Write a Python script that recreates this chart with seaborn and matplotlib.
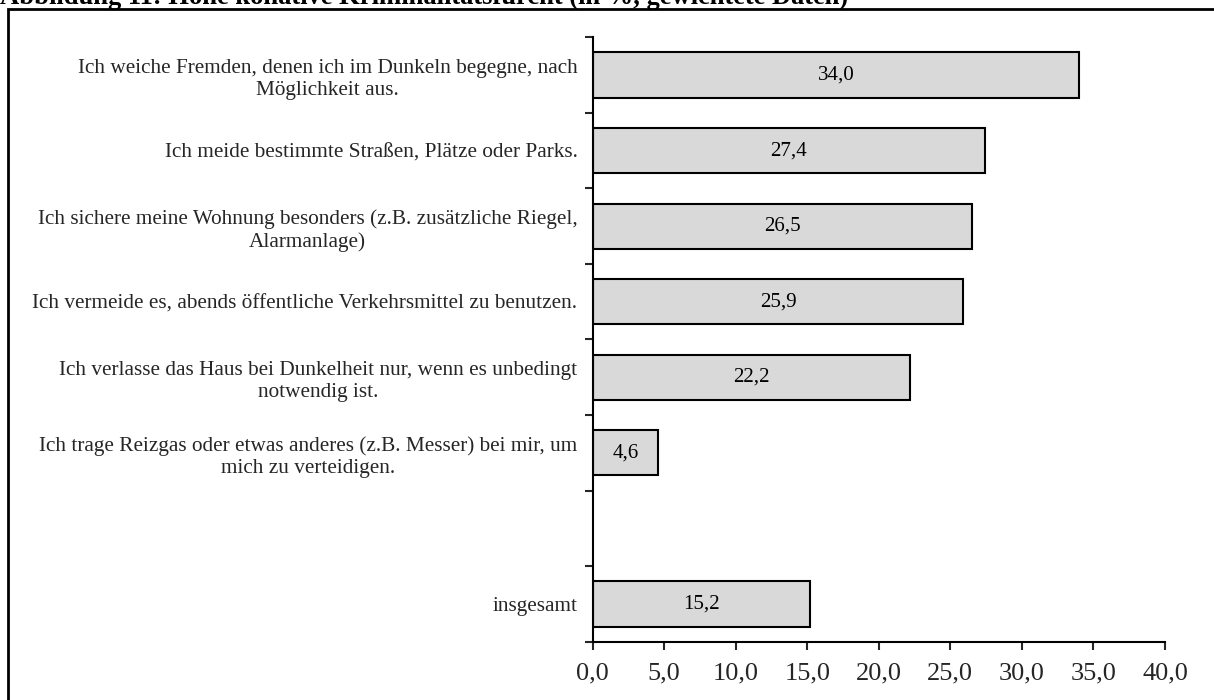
import matplotlib
matplotlib.use("Agg")
import matplotlib.pyplot as plt
import matplotlib.patches as mpatches
import pandas as pd
import seaborn as sns

# Survey items (blank slot separates the items from the overall value)
items = [
    "Ich weiche Fremden, denen ich im Dunkeln begegne, nach\nMöglichkeit aus.",
    "Ich meide bestimmte Straßen, Plätze oder Parks.",
    "Ich sichere meine Wohnung besonders (z.B. zusätzliche Riegel,\nAlarmanlage)",
    "Ich vermeide es, abends öffentliche Verkehrsmittel zu benutzen.",
    "Ich verlasse das Haus bei Dunkelheit nur, wenn es unbedingt\nnotwendig ist.",
    "Ich trage Reizgas oder etwas anderes (z.B. Messer) bei mir, um\nmich zu verteidigen.",
    " ",
    "insgesamt",
]
values = [34.0, 27.4, 26.5, 25.9, 22.2, 4.6, None, 15.2]
xticks = [0, 5, 10, 15, 20, 25, 30, 35, 40]
title = "Abbildung 11: Hohe konative Kriminalitätsfurcht (in %, gewichtete Daten)"

df = pd.DataFrame({"item": items, "value": values}).dropna()

sns.set_theme(style="white")
plt.rcParams["font.family"] = ["Liberation Serif", "DejaVu Serif"]

fig = plt.figure(figsize=(12.14, 7.0), dpi=100)
ax = fig.add_axes([0.4882, 0.0833, 0.9596 - 0.4882, 0.9467 - 0.0833])

sns.barplot(data=df, y="item", x="value", order=items, orient="h",
            color="#d9d9d9", saturation=1, width=0.6,
            edgecolor="black", linewidth=1.5, ax=ax)

# value labels inside the bars
for i, v in enumerate(values):
    if v is None:
        continue
    ax.text(v / 2, i, f"{v:.1f}".replace(".", ","), ha="center", va="center",
            fontsize=15, color="black")

n = len(items)
ax.set_ylim(n - 0.5, -0.5)
ax.set_xlim(0, 40)

# major y ticks mark the category boundaries, labels sit at the centres
ax.set_yticks([k - 0.5 for k in range(n + 1)])
ax.set_yticklabels([])
ax.set_yticks(range(n), items, minor=True)
for lbl in ax.get_yticklabels(minor=True):
    lbl.set_multialignment("center")
    lbl.set_fontsize(15.3)
    lbl.set_linespacing(1.25)
ax.tick_params(axis="y", which="minor", length=0, pad=11)
ax.tick_params(axis="y", which="major", length=6, width=1.5, direction="out", left=True)

ax.set_xticks(xticks)
ax.set_xticklabels([f"{t:.1f}".replace(".", ",") for t in xticks], fontsize=19)
ax.tick_params(axis="x", length=6, width=1.5, direction="out", bottom=True, pad=9)

ax.set_xlabel("")
ax.set_ylabel("")
for side in ["top", "right"]:
    ax.spines[side].set_visible(False)
for side in ["left", "bottom"]:
    ax.spines[side].set_color("black")
    ax.spines[side].set_linewidth(1.5)

# outer frame
fig.patches.append(mpatches.Rectangle((7.5 / 1214, -0.1), 1.2, 1 - 9.5 / 700 + 0.1,
                                      transform=fig.transFigure, fill=False,
                                      edgecolor="black", linewidth=2))
fig.text(0.0, 1 - 4.5 / 700, title, ha="left", va="baseline",
         fontsize=19.1, fontweight="bold", color="black")

fig.savefig("out.png", dpi=100)
